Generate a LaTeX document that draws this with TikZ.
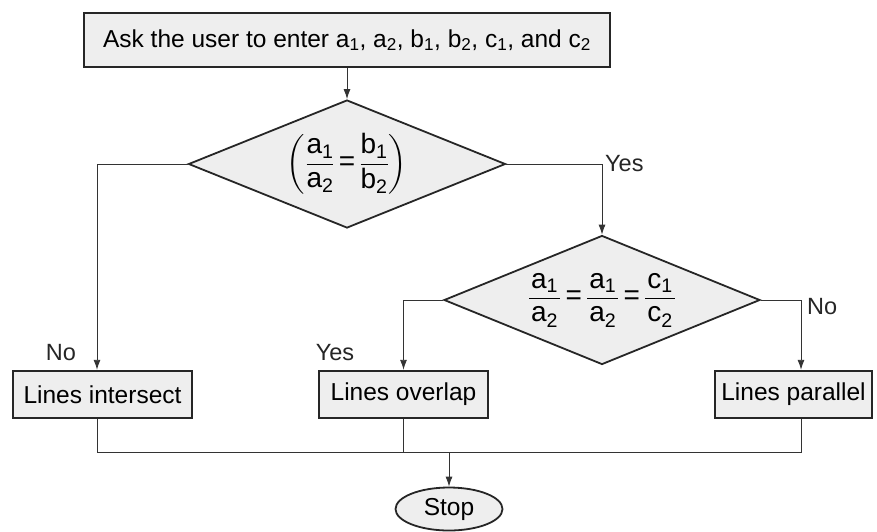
\documentclass[tikz,border=0pt]{standalone}
\usepackage{amsmath}
\usepackage{fontspec}
\setmainfont{Liberation Sans}
\usetikzlibrary{shapes.geometric,arrows.meta}
\newcommand{\sv}[2]{\text{#1}_{\text{#2}}}
\newcommand{\wfrac}[2]{\frac{\mkern1.5mu#1\mkern1.5mu}{\mkern1.5mu#2\mkern1.5mu}}
\begin{document}
\begin{tikzpicture}[x=1pt,y=-1pt,
  font=\fontsize{24.5}{28}\selectfont,
  procbox/.style={rectangle, draw=black!85, line width=2.4pt, fill=gray!13, inner sep=0pt},
  decision/.style={diamond, draw=black!85, line width=1.8pt, fill=gray!13, inner sep=0pt, aspect=2.4,
    font=\fontsize{28}{32}\selectfont},
  term/.style={ellipse, draw=black!85, line width=1.8pt, fill=gray!13, inner sep=0pt},
  conn/.style={draw=black!80, line width=0.9pt},
  arr/.style={conn, -{Latex[length=10pt,width=7pt]}},
  lbl/.style={inner sep=0pt, text=black!85, font=\fontsize{23.5}{27}\selectfont}]
\useasboundingbox (0,0) rectangle (877,531);

\node[procbox, minimum width=526pt, minimum height=54pt, font=\fontsize{24.5}{28}\selectfont] (ask) at (347,40)
  {Ask the user to enter a\textsubscript{1}, a\textsubscript{2}, b\textsubscript{1}, b\textsubscript{2}, c\textsubscript{1}, and c\textsubscript{2}};
\node[decision, minimum width=317pt, minimum height=128pt] (d1) at (347,164)
  {$\displaystyle\left(\frac{\sv{a}{1}}{\sv{a}{2}}\,\text{=}\,\frac{\sv{b}{1}}{\sv{b}{2}}\right)$};
\node[decision, minimum width=316pt, minimum height=129pt] (d2) at (602,300)
  {$\displaystyle\wfrac{\sv{a}{1}}{\sv{a}{2}}\,\text{=}\,\wfrac{\sv{a}{1}}{\sv{a}{2}}\,\text{=}\,\wfrac{\sv{c}{1}}{\sv{c}{2}}$};
\node[procbox, minimum width=179pt, minimum height=47pt] (b1) at (102.5,394.5) {Lines intersect};
\node[procbox, minimum width=169pt, minimum height=47pt] (b2) at (403.5,394.5) {Lines overlap};
\node[procbox, minimum width=157pt, minimum height=47pt] (b3) at (793.5,394.5) {Lines parallel};
\node[term, minimum width=107pt, minimum height=43pt] (stop) at (449,509) {Stop};
\coordinate (j) at (449,452);

\draw[arr] (ask.south) -- (d1.north);
\draw[arr] (d1.west) -| ([xshift=-5.5pt]b1.north);
\draw[arr] (d1.east) -| (d2.north);
\draw[arr] (d2.west) -| (b2.north);
\draw[arr] (d2.east) -| ([xshift=7.5pt]b3.north);
\draw[conn] ([xshift=-5.5pt]b1.south) |- (j) -| ([xshift=7.5pt]b3.south);
\draw[conn] (b2.south) -- (b2.south |- j);
\draw[arr] (j) -- (stop.north);

\node[lbl] (no1) at (61,353) {No};
\node[lbl] (yes1) at (335,353) {Yes};
\node[lbl, anchor=west] (yes2) at (605,164) {Yes};
\node[lbl, anchor=west] (no2) at (807,307) {No};
\end{tikzpicture}
\end{document}
